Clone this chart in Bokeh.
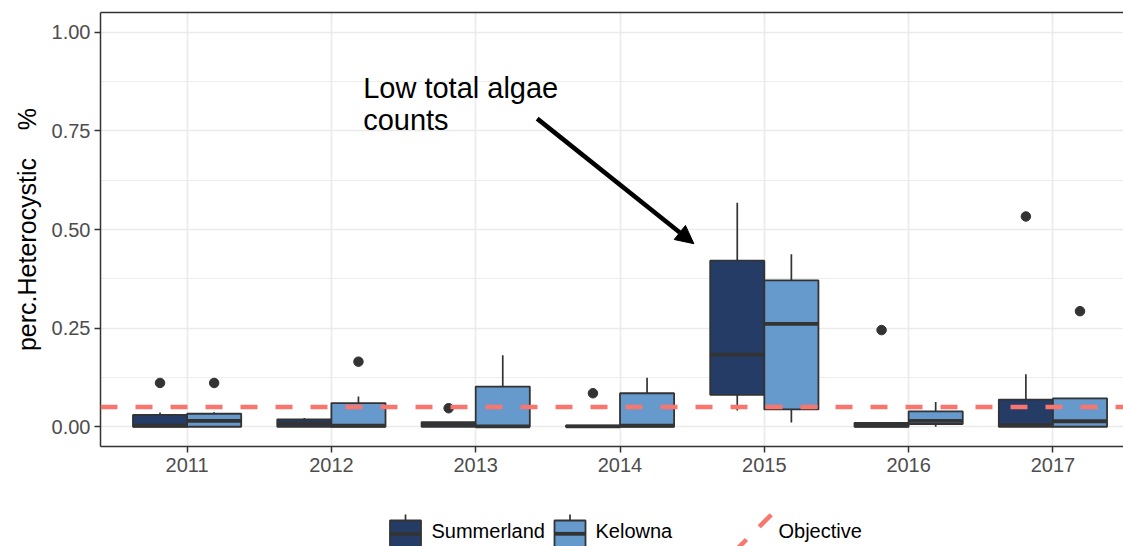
from bokeh.plotting import figure
from bokeh.models import (ColumnDataSource, Range1d, FixedTicker, NumeralTickFormatter,
                          LinearAxis, Span, Label, Arrow, NormalHead)
from bokeh.layouts import column
from bokeh.transform import dodge
from bokeh.core.properties import value
from bokeh.embed import file_html
from bokeh.resources import INLINE

# ---------------- data ----------------
years = [2011, 2012, 2013, 2014, 2015, 2016, 2017]
sites = ["Summerland", "Kelowna"]

summ_low = [0.0, 0.0, 0.0, 0.0, 0.041, 0.0, 0.0]
summ_q1 = [0.0, 0.0, 0.0, 0.0, 0.081, 0.0, 0.0]
summ_med = [0.003, 0.008, 0.004, 0.001, 0.183, 0.003, 0.004]
summ_q3 = [0.030, 0.019, 0.012, 0.003, 0.421, 0.010, 0.069]
summ_high = [0.036, 0.022, 0.012, 0.003, 0.568, 0.010, 0.133]
summ_out_year = [2011, 2013, 2014, 2016, 2017]
summ_out_val = [0.111, 0.047, 0.085, 0.245, 0.533]

kel_low = [0.0, 0.0, 0.0, 0.0, 0.011, 0.0, 0.0]
kel_q1 = [0.0, 0.0, 0.0, 0.0, 0.044, 0.007, 0.0]
kel_med = [0.015, 0.003, 0.001, 0.003, 0.261, 0.015, 0.014]
kel_q3 = [0.033, 0.060, 0.102, 0.085, 0.371, 0.039, 0.072]
kel_high = [0.037, 0.077, 0.181, 0.124, 0.437, 0.063, 0.072]
kel_out_year = [2011, 2012, 2017]
kel_out_val = [0.111, 0.165, 0.293]

objective = 0.05
y_ticks = [0.0, 0.25, 0.50, 0.75, 1.00]
y_minor = [0.125, 0.375, 0.625, 0.875]

y_title = "perc.Heterocystic\u00a0\u00a0\u00a0\u00a0%"
annot_lines = ["Low total algae", "counts"]
legend_objective = "Objective"

# ---------------- style ----------------
FONT = "Liberation Sans"
DARK = "#243C66"
LIGHT = "#6699CC"
EDGE = "#333333"
GRID = "#EBEBEB"
OBJ = "#F8766D"
DODGE = 0.1875
BOXW = 0.375

p = figure(width=1123, height=500, output_backend="svg", toolbar_location=None,
           x_range=Range1d(2010.4, 2017.489), y_range=Range1d(-0.05, 1.05),
           min_border_left=100, min_border_right=0, min_border_top=12, min_border_bottom=54)
p.outline_line_color = None
p.background_fill_color = "white"

xt = FixedTicker(ticks=years)
yt = FixedTicker(ticks=y_ticks, minor_ticks=y_minor)
p.xaxis.ticker = xt
p.xgrid.ticker = xt
p.yaxis.ticker = yt
p.ygrid.ticker = yt
p.yaxis.formatter = NumeralTickFormatter(format="0.00")
p.xgrid.grid_line_color = GRID
p.xgrid.grid_line_width = 1.6
p.ygrid.grid_line_color = GRID
p.ygrid.grid_line_width = 1.6
p.ygrid.minor_grid_line_color = GRID
p.ygrid.minor_grid_line_width = 0.9

for ax in (p.xaxis[0], p.yaxis[0]):
    ax.axis_line_color = EDGE
    ax.axis_line_width = 1.5
    ax.major_tick_line_color = EDGE
    ax.major_tick_line_width = 1.5
    ax.major_tick_out = 6
    ax.major_tick_in = 0
    ax.minor_tick_line_color = None
    ax.major_label_text_font = FONT
    ax.major_label_text_font_size = "20px"
    ax.major_label_text_color = "#4D4D4D"

p.xaxis.major_label_standoff = 5
p.yaxis.major_label_standoff = 4
p.yaxis.axis_label = y_title
p.yaxis.axis_label_text_font = FONT
p.yaxis.axis_label_text_font_size = "25px"
p.yaxis.axis_label_text_font_style = "normal"
p.yaxis.axis_label_text_color = "black"
p.yaxis.axis_label_standoff = 8

top = LinearAxis(ticker=FixedTicker(ticks=[]), major_label_text_font_size="0px",
                 major_tick_line_color=None, minor_tick_line_color=None,
                 major_tick_out=0, major_label_standoff=0,
                 axis_line_color=EDGE, axis_line_width=1.5)
p.add_layout(top, "above")


def draw_site(low, q1, med, q3, high, oy, ov, offset, color):
    src = ColumnDataSource(dict(year=years, low=low, q1=q1, med=med, q3=q3, high=high))
    xc = dodge("year", offset)
    p.segment(x0=xc, y0="q3", x1=xc, y1="high", source=src, line_color=EDGE, line_width=1.7)
    p.segment(x0=xc, y0="low", x1=xc, y1="q1", source=src, line_color=EDGE, line_width=1.7)
    p.vbar(x=xc, width=BOXW, bottom="q1", top="q3", source=src, fill_color=color,
           line_color=EDGE, line_width=1.8)
    p.segment(x0=dodge("year", offset - BOXW / 2), y0="med",
              x1=dodge("year", offset + BOXW / 2), y1="med", source=src,
              line_color=EDGE, line_width=3.8, line_cap="butt")
    osrc = ColumnDataSource(dict(year=oy, val=ov))
    p.scatter(x=dodge("year", offset), y="val", source=osrc, size=9.5,
              fill_color=EDGE, line_color=EDGE)


draw_site(summ_low, summ_q1, summ_med, summ_q3, summ_high, summ_out_year, summ_out_val, -DODGE, DARK)
draw_site(kel_low, kel_q1, kel_med, kel_q3, kel_high, kel_out_year, kel_out_val, DODGE, LIGHT)

p.add_layout(Span(location=objective, dimension="width", line_color=OBJ,
                  line_width=4.5, line_dash="17 18"))

# annotation
ANN_X = 2012.22
ANN_Y = [0.859, 0.778]
for txt, yy in zip(annot_lines, ANN_Y):
    p.add_layout(Label(x=ANN_X, y=yy, text=txt, text_font=FONT, text_font_size="29px",
                       text_color="black", text_baseline="alphabetic", text_align="left"))
p.add_layout(Arrow(end=NormalHead(size=18, fill_color="black", line_color="black"),
                   x_start=2013.426, y_start=0.781, x_end=2014.512, y_end=0.464,
                   line_width=4.5, line_color="black"))

# ---------------- legend strip (page-pixel coordinates) ----------------
leg = figure(width=1123, height=46, output_backend="svg", toolbar_location=None,
             x_range=Range1d(100, 1123), y_range=Range1d(546, 500),
             min_border_left=100, min_border_right=0, min_border_top=0, min_border_bottom=0,
             x_axis_location=None, y_axis_location=None)
leg.outline_line_color = None
leg.grid.visible = False

key_left = [389.5, 554.0]
key_colors = [DARK, LIGHT]
text_x = [431, 595]
LEG_TEXT_Y = 530
for kl, kc, tx, name in zip(key_left, key_colors, text_x, sites):
    cx = kl + 15.5
    leg.segment(x0=[cx, cx], y0=[514, 547], x1=[cx, cx], y1=[520, 553],
                line_color=EDGE, line_width=1.7)
    leg.quad(left=[kl], right=[kl + 31], top=[520], bottom=[547], fill_color=kc,
             line_color=EDGE, line_width=1.8)
    leg.segment(x0=[kl], y0=[533.3], x1=[kl + 31], y1=[533.3], line_color=EDGE,
                line_width=3.8, line_cap="butt")
    leg.text(x=[tx], y=[LEG_TEXT_Y], text=[name], text_font=value(FONT), text_font_size="20px",
             text_color="black", text_baseline="alphabetic", text_align="left")

leg.segment(x0=[734], y0=[551], x1=[772], y1=[513], line_color=OBJ, line_width=4.5,
            line_dash="17 18", line_cap="butt")
leg.text(x=[778], y=[LEG_TEXT_Y], text=[legend_objective], text_font=value(FONT), text_font_size="20px",
         text_color="black", text_baseline="alphabetic", text_align="left")

layout = column(p, leg, spacing=0)
open("out.html", "w").write(file_html(layout, INLINE))
